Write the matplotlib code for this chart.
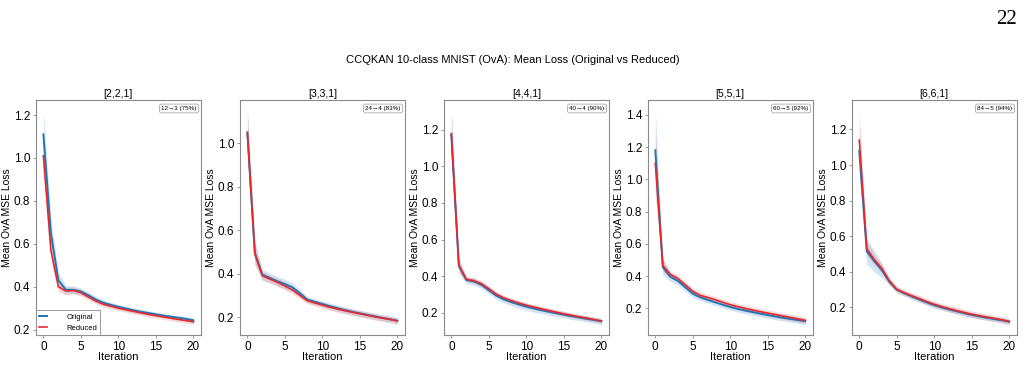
import matplotlib
matplotlib.use("Agg")
import matplotlib.pyplot as plt

plt.rcParams['font.family'] = ['Liberation Sans', 'DejaVu Sans']

iters = list(range(21))
titles = ['[2,2,1]', '[3,3,1]', '[4,4,1]', '[5,5,1]', '[6,6,1]']
notes = ['12\u21923 (75%)', '24\u21924 (83%)', '40\u21924 (90%)', '60\u21925 (92%)', '84\u21925 (94%)']

# mean loss, original model
orig_mean = [
    [1.11, 0.65, 0.43, 0.385, 0.385, 0.378, 0.36, 0.34, 0.325, 0.315, 0.306, 0.298, 0.29, 0.283, 0.277, 0.271, 0.265, 0.26, 0.255, 0.25, 0.243],
    [1.05, 0.495, 0.395, 0.38, 0.365, 0.352, 0.337, 0.31, 0.28, 0.27, 0.26, 0.25, 0.241, 0.232, 0.224, 0.217, 0.21, 0.203, 0.196, 0.19, 0.183],
    [1.175, 0.455, 0.378, 0.37, 0.352, 0.322, 0.292, 0.272, 0.257, 0.244, 0.232, 0.222, 0.213, 0.204, 0.196, 0.188, 0.18, 0.173, 0.166, 0.159, 0.152],
    [1.18, 0.455, 0.395, 0.37, 0.33, 0.29, 0.268, 0.252, 0.237, 0.222, 0.208, 0.196, 0.186, 0.176, 0.167, 0.158, 0.149, 0.141, 0.134, 0.127, 0.12],
    [1.08, 0.515, 0.46, 0.41, 0.345, 0.3, 0.28, 0.262, 0.245, 0.228, 0.213, 0.2, 0.189, 0.178, 0.168, 0.158, 0.15, 0.142, 0.135, 0.128, 0.12],
]
orig_std = [
    [0.11, 0.07, 0.035, 0.02, 0.018, 0.016, 0.015, 0.014, 0.013, 0.012, 0.012, 0.012, 0.011, 0.011, 0.011, 0.011, 0.01, 0.01, 0.01, 0.01, 0.01],
    [0.1, 0.05, 0.025, 0.022, 0.022, 0.022, 0.02, 0.018, 0.014, 0.014, 0.014, 0.014, 0.014, 0.014, 0.014, 0.014, 0.014, 0.014, 0.014, 0.014, 0.014],
    [0.13, 0.04, 0.02, 0.02, 0.02, 0.02, 0.02, 0.02, 0.02, 0.02, 0.02, 0.02, 0.019, 0.019, 0.018, 0.018, 0.018, 0.017, 0.017, 0.017, 0.017],
    [0.245, 0.05, 0.03, 0.025, 0.025, 0.022, 0.02, 0.02, 0.02, 0.02, 0.02, 0.02, 0.02, 0.02, 0.02, 0.02, 0.02, 0.02, 0.02, 0.02, 0.02],
    [0.13, 0.07, 0.06, 0.04, 0.02, 0.015, 0.015, 0.015, 0.015, 0.015, 0.015, 0.015, 0.015, 0.015, 0.015, 0.015, 0.015, 0.015, 0.015, 0.015, 0.015],
]

# mean loss, reduced model
red_mean = [
    [1.01, 0.57, 0.40, 0.38, 0.382, 0.372, 0.352, 0.333, 0.318, 0.309, 0.3, 0.292, 0.285, 0.278, 0.271, 0.265, 0.259, 0.253, 0.247, 0.242, 0.236],
    [1.05, 0.49, 0.39, 0.375, 0.36, 0.343, 0.325, 0.3, 0.275, 0.265, 0.255, 0.245, 0.237, 0.229, 0.222, 0.215, 0.208, 0.201, 0.195, 0.189, 0.182],
    [1.18, 0.46, 0.382, 0.375, 0.358, 0.33, 0.3, 0.28, 0.265, 0.252, 0.24, 0.23, 0.22, 0.211, 0.202, 0.193, 0.185, 0.177, 0.17, 0.162, 0.154],
    [1.10, 0.465, 0.41, 0.385, 0.345, 0.305, 0.28, 0.267, 0.253, 0.237, 0.222, 0.21, 0.199, 0.189, 0.179, 0.17, 0.161, 0.152, 0.143, 0.134, 0.125],
    [1.14, 0.53, 0.47, 0.42, 0.35, 0.302, 0.283, 0.266, 0.25, 0.233, 0.218, 0.205, 0.193, 0.182, 0.172, 0.162, 0.154, 0.146, 0.139, 0.131, 0.122],
]
red_std = [
    [0.07, 0.05, 0.025, 0.018, 0.016, 0.015, 0.015, 0.014, 0.013, 0.012, 0.012, 0.012, 0.012, 0.012, 0.012, 0.012, 0.012, 0.012, 0.012, 0.012, 0.012],
    [0.1, 0.05, 0.02, 0.018, 0.018, 0.018, 0.018, 0.016, 0.014, 0.014, 0.014, 0.014, 0.015, 0.015, 0.015, 0.015, 0.015, 0.015, 0.015, 0.015, 0.016],
    [0.12, 0.035, 0.015, 0.015, 0.015, 0.015, 0.014, 0.014, 0.013, 0.013, 0.013, 0.013, 0.013, 0.013, 0.013, 0.013, 0.013, 0.013, 0.013, 0.013, 0.013],
    [0.2, 0.04, 0.02, 0.02, 0.02, 0.02, 0.02, 0.02, 0.02, 0.02, 0.02, 0.02, 0.02, 0.02, 0.02, 0.02, 0.02, 0.02, 0.02, 0.02, 0.02],
    [0.165, 0.04, 0.03, 0.025, 0.02, 0.018, 0.018, 0.018, 0.018, 0.018, 0.018, 0.018, 0.018, 0.018, 0.018, 0.018, 0.018, 0.017, 0.017, 0.017, 0.017],
]

blue = '#1f77b4'
red = '#e8262b'
grey = '#8a8a8a'

fig, axes = plt.subplots(1, 5, figsize=(10.25, 3.91), dpi=100)
plt.subplots_adjust(left=0.035, right=0.992, bottom=0.143, top=0.744, wspace=0.236)

for i, ax in enumerate(axes):
    om, osd = orig_mean[i], orig_std[i]
    rm, rsd = red_mean[i], red_std[i]
    ax.fill_between(iters, [m - s for m, s in zip(om, osd)], [m + s for m, s in zip(om, osd)],
                    color='#6fa8dc', alpha=0.3, lw=0)
    ax.fill_between(iters, [m - s for m, s in zip(rm, rsd)], [m + s for m, s in zip(rm, rsd)],
                    color='#e57373', alpha=0.25, lw=0)
    ax.plot(iters, om, color=blue, lw=1.4, label='Original')
    ax.plot(iters, rm, color=red, lw=1.2, label='Reduced')

    ax.set_title(titles[i], fontsize=7.5, pad=2)
    ax.set_xlabel('Iteration', fontsize=8, labelpad=-0.5)
    ax.set_ylabel('Mean OvA MSE Loss', fontsize=7.5, labelpad=1.5)
    ax.set_xticks([0, 5, 10, 15, 20])
    ax.tick_params(labelsize=8.5, length=2.5, width=0.6, color=grey, pad=1.5)
    for sp in ax.spines.values():
        sp.set_color(grey)
        sp.set_linewidth(0.8)
    ax.text(0.975, 0.975, notes[i], transform=ax.transAxes, ha='right', va='top',
            fontsize=4.5, family=['Liberation Sans', 'DejaVu Sans'],
            bbox=dict(boxstyle='round,pad=0.3', fc='white', ec='#aaaaaa', lw=0.6))

leg = axes[0].legend(loc='lower left', fontsize=5.5, handlelength=1.0, handletextpad=2.6,
                     borderaxespad=0.0, fancybox=False, framealpha=1, edgecolor=grey)
leg.get_frame().set_linewidth(0.6)

fig.suptitle('CCQKAN 10-class MNIST (OvA): Mean Loss (Original vs Reduced)', fontsize=8, y=0.86)
fig.text(0.982, 0.95, '22', fontsize=15, family='Liberation Serif', ha='center', va='center')

fig.savefig('out.png', dpi=100)
